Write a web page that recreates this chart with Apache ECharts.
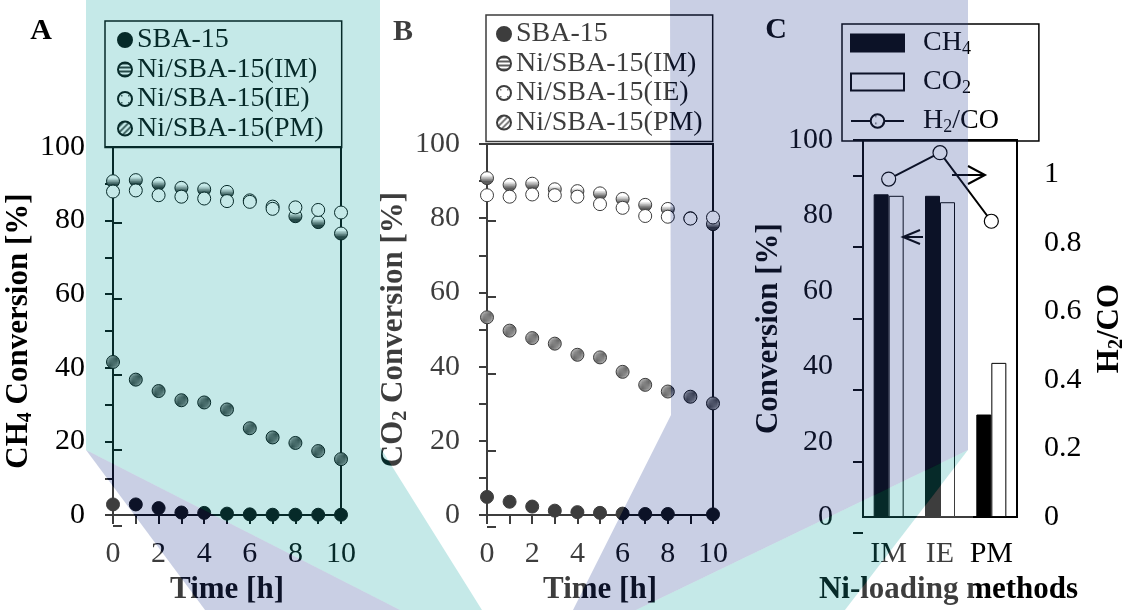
<!DOCTYPE html>
<html>
<head>
<meta charset="utf-8">
<script src="https://cdn.jsdelivr.net/npm/echarts@6/dist/echarts.min.js"></script>
<style>
  html, body { margin: 0; background: #fff; }
  #chart { width: 1128px; height: 610px; }
</style>
</head>
<body>
<div id="chart"></div>
<script>
// ---- data ----
const hours = [0, 1, 2, 3, 4, 5, 6, 7, 8, 9, 10];
const catalysts = ["SBA-15", "Ni/SBA-15(IM)", "Ni/SBA-15(IE)", "Ni/SBA-15(PM)"];

// A: CH4 conversion [%]
const ch4SBA = [2.9, 2.9, 1.9, 0.7, 0.6, 0.4, 0.2, 0.1, 0.1, 0.1, 0.1];
const ch4IM  = [90.7, 91.0, 90.0, 88.9, 88.5, 87.8, 85.5, 83.8, 81.2, 79.6, 76.5];
const ch4IE  = [87.9, 88.2, 86.9, 86.5, 86.0, 85.3, 85.1, 83.2, 83.6, 82.9, 82.2];
const ch4PM  = [41.6, 36.8, 33.7, 31.2, 30.6, 28.7, 23.6, 21.1, 19.6, 17.4, 15.2];

// B: CO2 conversion [%]
const co2SBA = [4.9, 3.6, 2.3, 1.2, 0.8, 0.6, 0.4, 0.3, 0.3, null, 0.2];
const co2IM  = [90.8, 89.0, 89.3, 87.8, 87.3, 86.7, 85.2, 83.6, 82.5, 80.0, 78.4];
const co2IE  = [86.2, 85.8, 86.4, 86.2, 85.8, 83.8, 82.8, 80.6, 80.4, 79.9, 80.2];
const co2PM  = [53.3, 49.7, 47.7, 46.2, 43.2, 42.5, 38.6, 35.1, 33.3, 31.9, 30.1];

// C: by loading method
const methods = ["IM", "IE", "PM"];
const convCH4 = [85.6, 85.2, 27.2];
const convCO2 = [85.2, 83.5, 40.9];
const h2co    = [0.986, 1.063, 0.863];

// ---- styling helpers ----
const serif = "Liberation Serif";
const ink = "#000";

function tile(size, draw) {
  const c = document.createElement("canvas");
  c.width = c.height = size;
  const g = c.getContext("2d");
  g.fillStyle = "#fff";
  g.fillRect(0, 0, size, size);
  draw(g);
  return { image: c, repeat: "repeat" };
}
const stripeFill = tile(4, g => { g.fillStyle = "#2b2b2b"; g.fillRect(0, 0, 4, 2); });
const dotFill = tile(7, g => { g.fillStyle = "#555"; g.fillRect(3, 3, 1.5, 1.5); });
const hatchFill = tile(6, g => {
  g.strokeStyle = "#3a3a3a"; g.lineWidth = 1.7;
  g.beginPath();
  g.moveTo(-1, 7); g.lineTo(7, -1);
  g.moveTo(-1, 1); g.lineTo(1, -1);
  g.moveTo(5, 7); g.lineTo(7, 5);
  g.stroke();
});
const fills = [ink, stripeFill, dotFill, hatchFill];

const pairs = arr => hours.map((h, i) => [h, arr[i]]);

const tickLabel = { color: ink, fontFamily: serif, fontSize: 30 };
const nameStyle = {
  color: ink, fontFamily: serif, fontSize: 31, fontWeight: "bold",
  rich: {
    b: { fontFamily: serif, fontSize: 31, fontWeight: "bold", color: ink },
    s: { fontFamily: serif, fontSize: 20, fontWeight: "bold", color: ink, padding: [14, 0, 0, 0] }
  }
};
const axisLine = { show: true, onZero: false, lineStyle: { color: ink, width: 2 } };

const rectA = { left: 113, top: 147, width: 228, height: 379 };
const rectB = { left: 487, top: 144, width: 226, height: 383 };
const rectC = { left: 863, top: 140, width: 157, height: 393 };

function timeAxis(grid) {
  return {
    type: "value", gridIndex: grid, min: 0, max: 10, interval: 1,
    axisLine, axisTick: { length: 9, lineStyle: { color: ink, width: 2 } },
    axisLabel: { ...tickLabel, margin: 24, formatter: v => (v % 2 === 0 ? String(v) : "") },
    splitLine: { show: false },
    name: "Time [h]", nameLocation: "middle", nameGap: 54, nameTextStyle: nameStyle
  };
}
function convAxis(grid, name, gap, margin) {
  return {
    type: "value", gridIndex: grid, position: "left", min: 0, max: 100, interval: 10,
    axisLine, axisTick: { length: 8, lineStyle: { color: ink, width: 2 } },
    axisLabel: { ...tickLabel, margin, formatter: v => (v % 20 === 0 ? String(v) : "") },
    splitLine: { show: false },
    name, nameLocation: "middle", nameRotate: 90, nameGap: gap, nameTextStyle: nameStyle
  };
}
// overlay grids whose axes only draw the inward half of the major ticks
const hiddenX = grid => ({ type: "value", gridIndex: grid, min: 0, max: 1, show: false });
function innerTicks(grid, pos, max, step, len) {
  return {
    type: "value", gridIndex: grid, position: pos, min: 0, max, interval: step,
    axisLine: { show: false },
    axisTick: { show: true, inside: true, length: len, lineStyle: { color: ink, width: 2 } },
    axisLabel: { show: false }, splitLine: { show: false }
  };
}

function legendBox(left, top, data, extra) {
  return Object.assign({
    data, left, top, orient: "vertical", selectedMode: false,
    itemWidth: 14, itemHeight: 14, itemGap: 1.5,
    padding: [5, 18, 5, 12],
    borderColor: ink, borderWidth: 1.5,
    textStyle: { color: ink, fontFamily: serif, fontSize: 28, lineHeight: 26 }
  }, extra || {});
}

const scatterFor = (xi, yi, arrays) => arrays.map((arr, i) => ({
  name: catalysts[i], type: "scatter", xAxisIndex: xi, yAxisIndex: yi,
  symbol: "circle", symbolSize: 13, data: pairs(arr),
  itemStyle: { color: fills[i], borderColor: ink, borderWidth: 1, opacity: 1 }
}));

const gridStyle = { show: true, borderColor: ink, borderWidth: 2, backgroundColor: "transparent" };

// watermark tint overlays
const teal = "rgba(23,167,163,0.25)";
const lav = "rgba(47,70,151,0.26)";
const wash = "rgba(255,255,255,0.24)";
const poly = (points, fill) => ({ type: "polygon", silent: true, z: 100, shape: { points }, style: { fill } });
const letter = (text, x, y) => ({
  type: "text", x, y, z: 50,
  style: { text, fill: ink, font: "bold 30px 'Liberation Serif'", align: "center", verticalAlign: "middle" }
});
const stroke = points => ({ type: "polyline", z: 50, shape: { points }, style: { stroke: ink, lineWidth: 2, fill: null } });

const option = {
  backgroundColor: "#fff",
  animation: false,
  grid: [
    Object.assign({}, rectA, gridStyle),
    Object.assign({}, rectB, gridStyle),
    Object.assign({}, rectC, gridStyle),
    Object.assign({}, rectA),
    Object.assign({}, rectB),
    Object.assign({}, rectC)
  ],
  xAxis: [
    timeAxis(0),
    timeAxis(1),
    {
      type: "category", gridIndex: 2, data: methods,
      axisLine, axisTick: { length: 8, lineStyle: { color: ink, width: 2 } },
      axisLabel: { ...tickLabel, margin: 22, interval: 0 },
      name: "Ni-loading methods", nameLocation: "middle", nameGap: 48,
      nameTextStyle: Object.assign({}, nameStyle, { padding: [0, 0, 0, 17] })
    },
    hiddenX(3), hiddenX(4), hiddenX(5)
  ],
  yAxis: [
    convAxis(0, "{b|CH}{s|4}{b| Conversion [%]}", 70, 28),
    convAxis(1, "{b|CO}{s|2}{b| Conversion [%]}", 71, 27),
    convAxis(2, "Conversion [%]", 77, 30),
    {
      type: "value", gridIndex: 2, position: "right", min: 0, max: 1.1, interval: 0.1,
      axisLine, axisTick: { length: 9, lineStyle: { color: ink, width: 2 } },
      axisLabel: {
        ...tickLabel, margin: 27,
        formatter: v => { const k = Math.round(v * 10); return (k % 2 === 0 && k <= 10) ? String(k / 10) : ""; }
      },
      splitLine: { show: false },
      name: "{b|H}{s|2}{b|/CO}", nameLocation: "middle", nameRotate: 90, nameGap: 76, nameTextStyle: nameStyle
    },
    innerTicks(3, "left", 100, 20, 9),
    innerTicks(4, "left", 100, 20, 9),
    innerTicks(5, "right", 1.1, 0.2, 10)
  ],
  legend: [
    legendBox(105, 21, catalysts),
    legendBox(486, 15, catalysts, { padding: [5, 10, 5, 10] }),
    legendBox(842, 24, [
      { name: "CH4", icon: "rect" },
      { name: "CO2", icon: "rect" },
      { name: "H2/CO" }
    ], {
      itemWidth: 53, itemHeight: 17, itemGap: 10, padding: [5, 40, 5, 8],
      formatter: n => ({ CH4: "{g|}{t|CH}{s|4}", CO2: "{g|}{t|CO}{s|2}", "H2/CO": "{g|}{t|H}{s|2}{t|/CO}" })[n],
      textStyle: {
        color: ink, fontFamily: serif, fontSize: 28, lineHeight: 26,
        rich: {
          g: { width: 14 },
          t: { fontFamily: serif, fontSize: 28, color: ink },
          s: { fontFamily: serif, fontSize: 18, color: ink, padding: [12, 0, 0, 0] }
        }
      }
    })
  ],
  series: [
    ...scatterFor(0, 0, [ch4SBA, ch4IM, ch4IE, ch4PM]),
    ...scatterFor(1, 1, [co2SBA, co2IM, co2IE, co2PM]),
    {
      name: "CH4", type: "bar", xAxisIndex: 2, yAxisIndex: 2, data: convCH4,
      barWidth: 15, barGap: "0%", itemStyle: { color: ink, borderColor: ink, borderWidth: 1 }
    },
    {
      name: "CO2", type: "bar", xAxisIndex: 2, yAxisIndex: 2, data: convCO2,
      barWidth: 15, barGap: "0%", itemStyle: { color: "#fff", borderColor: ink, borderWidth: 1 }
    },
    {
      name: "H2/CO", type: "line", xAxisIndex: 2, yAxisIndex: 3, data: h2co,
      symbol: "circle", symbolSize: 14, z: 5,
      lineStyle: { color: ink, width: 2 },
      itemStyle: { color: dotFill, borderColor: ink, borderWidth: 1.2 }
    }
  ],
  graphic: [
    letter("A", 41, 31),
    letter("B", 403, 32),
    letter("C", 776, 30),
    // arrows pointing to the axis each series belongs to
    stroke([[920, 230], [903, 237], [920, 244]]),
    stroke([[903, 237], [923, 237]]),
    stroke([[952, 175], [985, 175]]),
    stroke([[968, 166], [985, 175], [968, 184]]),
    // background watermark tints
    poly([[86, 0], [380, 0], [380, 447], [482, 610], [400, 610], [86, 450]], teal),
    poly([[86, 450], [400, 610], [205, 610]], lav),
    poly([[86, 450], [205, 610], [86, 610]], wash),
    poly([[380, 0], [670, 0], [671, 415], [573, 610], [482, 610], [380, 447]], wash),
    poly([[670, 0], [968, 0], [968, 450], [636, 610], [573, 610], [671, 415]], lav),
    poly([[636, 610], [968, 450], [845, 610]], teal),
    poly([[845, 610], [968, 450], [973, 450], [973, 610]], wash)
  ]
};

const chart = echarts.init(document.getElementById("chart"), null, { renderer: "canvas" });
chart.setOption(option);
</script>
</body>
</html>
